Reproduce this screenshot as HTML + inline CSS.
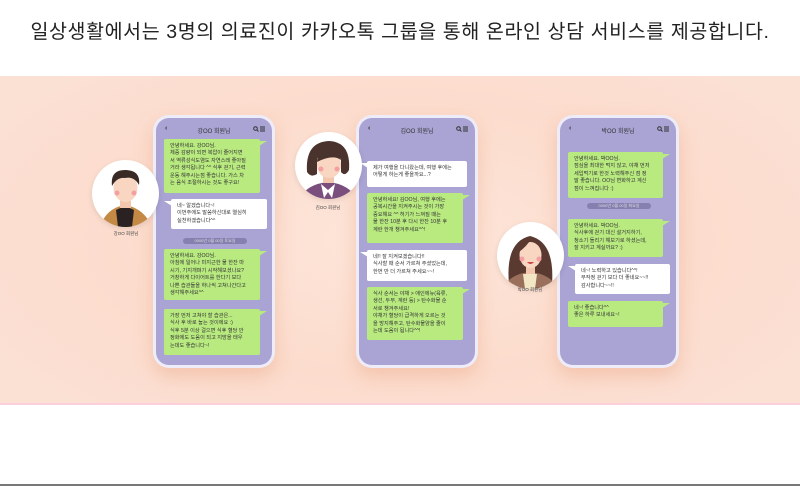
<!DOCTYPE html>
<html><head><meta charset="utf-8"><style>
*{margin:0;padding:0;box-sizing:border-box}
body{width:800px;height:486px;background:#fff;position:relative;overflow:hidden;font-family:"Liberation Sans","Noto Sans CJK KR",sans-serif}
.title{position:absolute;top:15px;left:0;width:800px;text-align:center;font-size:19.5px;color:#222;letter-spacing:0.6px;white-space:nowrap}
.band{position:absolute;top:76px;left:0;width:800px;height:329px;background:radial-gradient(ellipse 60% 70% at 50% 50%,#fde6da,#fcdccd 60%,#fbe0d4);border-bottom:2px solid #fbd0da}
.bline{position:absolute;top:484px;left:0;width:800px;height:2px;background:#777}
.phone{position:absolute;width:122px;height:253px;border-radius:16px;background:#eeecf8;box-shadow:0 8px 18px rgba(230,150,110,.35)}
.scr{position:absolute;left:3px;top:3px;right:3px;bottom:3px;border-radius:13px;background:#a9a4d4}
.hd{position:absolute;top:8px;left:0;width:100%;font-size:6px;color:#333;text-align:center}
.hd .l{position:absolute;left:9px;top:-1px;font-size:7px;font-weight:bold}
.hd .r{position:absolute;right:7px;top:0px}
.b{position:absolute;font-size:5.2px;line-height:7.4px;color:#333;padding:4px 6px;border-radius:2px;white-space:nowrap}
.g{background:#b8ea80}
.w{background:#fff}
.g::after{content:"";position:absolute;right:-7px;top:2px;border-left:8px solid #b8ea80;border-top:0 solid transparent;border-bottom:5px solid transparent}
.w::after{content:"";position:absolute;left:-7px;top:2px;border-right:8px solid #fff;border-bottom:5px solid transparent}
.pill{position:absolute;height:6px;border-radius:3px;background:#8580b0;font-size:4px;line-height:6px;color:#ddd;text-align:center}
.av{position:absolute;width:67px;height:67px;border-radius:50%;background:#fff;overflow:hidden;box-shadow:0 2px 6px rgba(0,0,0,.1)}
.lab{position:absolute;font-size:4.5px;color:#444;text-align:center;width:60px}
</style></head><body>
<div class="title">일상생활에서는 3명의 의료진이 카카오톡 그룹을 통해 온라인 상담 서비스를 제공합니다.</div>
<div class="band"></div>
<div class="bline"></div>

<!-- phone 1 -->
<div class="phone" style="left:153px;top:115px">
<div class="scr">
<div class="hd"><span class="l">‹</span>강OO 회원님<span class="r"><svg width="12" height="6"><circle cx="2.5" cy="2.5" r="1.8" fill="none" stroke="#333" stroke-width="1"/><line x1="4" y1="4" x2="5.5" y2="5.5" stroke="#333"/><path d="M7 1H12M7 3H12M7 5H12" stroke="#333" stroke-width="0.9"/></svg></span></div>
</div></div>
<div class="b g" style="left:164px;top:139px;width:96px;height:54px">안녕하세요. 강OO님.<br>체중 감량이 되면 복압이 줄어지면<br>서 역류성식도염도 자연스레 좋아질<br>거라 생각됩니다 ^^ 식후 걷기, 근력<br>운동 해주시는점 좋습니다. 가스 차<br>는 음식 조절하시는 것도 좋구요!</div>
<div class="b w" style="left:171px;top:199px;width:96px;height:30px">네~ 알겠습니다~!<br>이번주에도 말씀하신대로 열심히<br>실천하겠습니다^^</div>
<div class="pill" style="left:183px;top:238px;width:64px">0000년 0월 00일 토요일</div>
<div class="b g" style="left:164px;top:249px;width:96px;height:51px">안녕하세요. 강OO님.<br>아침에 일어나 미지근한 물 한잔 마<br>시기, 기지개펴기 시작해보셨나요?<br>거창하게 다이어트를 한다기 보다<br>나쁜 습관들을 하나씩 고쳐나간다고<br>생각해주세요^^</div>
<div class="b g" style="left:164px;top:309px;width:96px;height:46px">가장 먼저 고쳐야 할 습관은...<br>식사 후 바로 눕는 것이에요 :)<br>식후 5분 이상 걸으면 식후 혈당 안<br>정화에도 도움이 되고 지방을 태우<br>는데도 좋습니다~!</div>
<div class="av" style="left:92px;top:160px">
<svg width="67" height="67"><path d="M8 67 Q14 48 33 45 Q52 48 60 67Z" fill="#c48a45"/><path d="M24 50 L33 46 L42 50 L40 67 L26 67Z" fill="#2a2222"/><rect x="28" y="36" width="11" height="12" fill="#f3c7ae"/><ellipse cx="33.5" cy="28" rx="12" ry="14" fill="#f8d6c2"/><path d="M20 26 Q18 10 33 10 Q49 10 47 25 Q42 16 33 18 Q25 17 20 26Z" fill="#3a2a25"/><circle cx="25" cy="33" r="2.5" fill="#f5a0a0"/><circle cx="42" cy="33" r="2.5" fill="#f5a0a0"/></svg></div>
<div class="lab" style="left:96px;top:231px">강OO 회원님</div>

<!-- phone 2 -->
<div class="phone" style="left:356px;top:115px">
<div class="scr">
<div class="hd"><span class="l">‹</span>김OO 회원님<span class="r"><svg width="12" height="6"><circle cx="2.5" cy="2.5" r="1.8" fill="none" stroke="#333" stroke-width="1"/><line x1="4" y1="4" x2="5.5" y2="5.5" stroke="#333"/><path d="M7 1H12M7 3H12M7 5H12" stroke="#333" stroke-width="0.9"/></svg></span></div>
</div></div>
<div class="b w" style="left:367px;top:161px;width:100px;height:26px">제가 여행을 다니왔는데, 여행 후에는<br>어떻게 하는게 좋을까요...?</div>
<div class="b g" style="left:367px;top:193px;width:96px;height:50px">안녕하세요!  김OO님, 여행 후에는<br>공복시간을 지켜주시는 것이 가장<br>중요해요 ^^ 허기가 느껴질 때는<br>물 한잔 10분 후 다시 한잔 10분 후<br>계란 한개 챙겨주세요^^!</div>
<div class="b w" style="left:367px;top:250px;width:100px;height:31px">네!! 잘 지켜보겠습니다!!<br>식사할 때 순서 가르쳐 주셨었는데,<br>한번 만 더 가르쳐 주세요~~!</div>
<div class="b g" style="left:367px;top:287px;width:96px;height:53px">식사 순서는 야채 > 애인에뉴(육류,<br>생선, 두부, 계란 등) > 탄수화물 순<br>서로 챙겨주세요!<br>야채가 혈당이 급격하게 오르는 것<br>을 방지해주고, 탄수화물양을 줄이<br>는데 도움이 됩니다^^!</div>
<div class="av" style="left:295px;top:132px">
<svg width="67" height="67"><path d="M4 67 Q12 52 33 50 Q54 52 62 67Z" fill="#7a4f7d"/><path d="M26 52 L33 58 L40 52 L37 66 L33 60 L29 66Z" fill="#fff"/><rect x="28" y="40" width="11" height="11" fill="#f3c7ae"/><path d="M12 40 Q10 10 34 9 Q56 10 54 38 Q50 45 46 40 L46 26 Q34 22 22 26 L22 42 Q16 46 12 40Z" fill="#4a332c"/><ellipse cx="34" cy="33" rx="12" ry="13" fill="#f8d6c2"/><path d="M22 30 Q22 18 34 18 Q46 18 46 28 Q38 22 22 30Z" fill="#4a332c"/><circle cx="26" cy="37" r="2.5" fill="#f5a0a0"/><circle cx="42" cy="37" r="2.5" fill="#f5a0a0"/></svg></div>
<div class="lab" style="left:298px;top:205px">김OO 회원님</div>

<!-- phone 3 -->
<div class="phone" style="left:557px;top:115px">
<div class="scr">
<div class="hd"><span class="l">‹</span>박OO 회원님<span class="r"><svg width="12" height="6"><circle cx="2.5" cy="2.5" r="1.8" fill="none" stroke="#333" stroke-width="1"/><line x1="4" y1="4" x2="5.5" y2="5.5" stroke="#333"/><path d="M7 1H12M7 3H12M7 5H12" stroke="#333" stroke-width="0.9"/></svg></span></div>
</div></div>
<div class="b g" style="left:568px;top:152px;width:95px;height:46px">안녕하세요. 박OO님.<br>점심을 최대한 먹지 않고, 야채 먼저<br>세입먹기로 한것 노력해주신 점 정<br>말 좋습니다. OO님 변화하고 계신<br>점이 느껴집니다 :)</div>
<div class="pill" style="left:587px;top:203px;width:64px">0000년 0월 00일 화요일</div>
<div class="b g" style="left:568px;top:219px;width:95px;height:38px">안녕하세요. 박OO님.<br>식사후에 걷기 대신 설거지하기,<br>청소기 돌리기 해보기로 하셨는데,<br>잘 지키고 계실까요? :)</div>
<div class="b w" style="left:575px;top:264px;width:95px;height:30px">네~! 노력하고 있습니다^^!<br>무작정 걷기 보다 더 좋네요~~!!<br>감사합니다~~!!</div>
<div class="b g" style="left:568px;top:301px;width:95px;height:26px">네~! 좋습니다^^<br>좋은 하루 보내세요~!</div>
<div class="av" style="left:497px;top:222px">
<svg width="67" height="67"><path d="M12 62 Q8 20 33 14 Q58 20 55 62Z" fill="#5a3a30"/><path d="M6 67 Q12 52 33 50 Q54 52 61 67Z" fill="#9a6f5c"/><path d="M26 52 L40 52 L38 67 L28 67Z" fill="#f2e6c4"/><rect x="29" y="40" width="9" height="12" fill="#f3c7ae"/><ellipse cx="33.5" cy="33" rx="11" ry="13" fill="#f8d6c2"/><path d="M22 30 Q24 16 34 17 Q30 24 22 30Z" fill="#5a3a30"/><path d="M30 40 Q33.5 44 37 40Z" fill="#c44"/><circle cx="25" cy="37" r="2.5" fill="#f5a0a0"/><circle cx="42" cy="37" r="2.5" fill="#f5a0a0"/></svg></div>
<div class="lab" style="left:500px;top:287px">박OO 회원님</div>
</body></html>
